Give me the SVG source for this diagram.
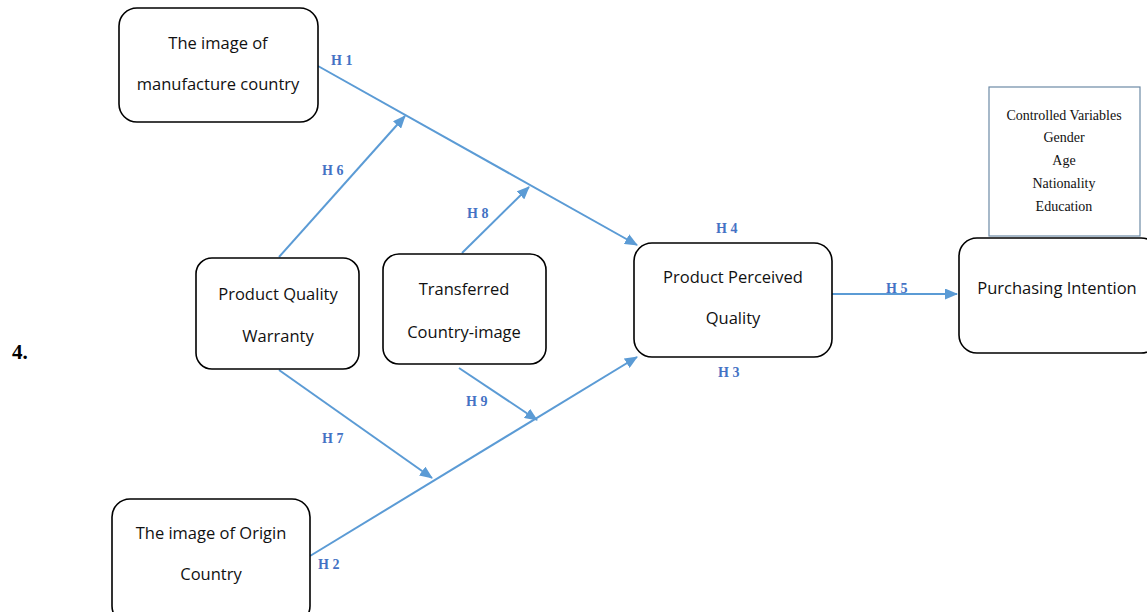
<svg xmlns="http://www.w3.org/2000/svg" width="1147" height="612" viewBox="0 0 1147 612">
<style>
.box{fill:#fff;stroke:#000;stroke-width:1.6}
.t{font-family:"Open Sans","Liberation Sans",sans-serif;font-size:16.5px;fill:#111;text-anchor:middle}
.c{fill:none;stroke:#5b9bd5;stroke-width:2}
.h{font-family:"Liberation Serif",serif;font-weight:bold;font-size:14px;fill:#4472c4}
.cv{font-family:"Liberation Serif",serif;font-size:14px;fill:#111;text-anchor:middle}
.num{font-family:"Liberation Serif",serif;font-weight:bold;font-size:21px;fill:#000}
</style>
<defs>
<marker id="a" viewBox="0 0 13 11" refX="12" refY="5.5" markerWidth="13" markerHeight="11" markerUnits="userSpaceOnUse" orient="auto">
<path d="M0,0 L13,5.5 L0,11 Z" fill="#5b9bd5"/>
</marker>
</defs>
<rect width="1147" height="612" fill="#fff"/>
<text class="num" x="12" y="359">4.</text>
<g id="connectors">
<line class="c" x1="318" y1="66" x2="637" y2="245" marker-end="url(#a)"/>
<line class="c" x1="279" y1="257" x2="405" y2="116" marker-end="url(#a)"/>
<line class="c" x1="462" y1="253" x2="529" y2="187" marker-end="url(#a)"/>
<line class="c" x1="310" y1="556" x2="637" y2="357" marker-end="url(#a)"/>
<line class="c" x1="279" y1="370" x2="432" y2="478" marker-end="url(#a)"/>
<line class="c" x1="459" y1="368" x2="537" y2="420" marker-end="url(#a)"/>
<line class="c" x1="832" y1="294" x2="957" y2="294" marker-end="url(#a)"/>
<text class="h" x="331" y="65">H 1</text>
<text class="h" x="322" y="175">H 6</text>
<text class="h" x="467" y="218">H 8</text>
<text class="h" x="716" y="233">H 4</text>
<text class="h" x="886" y="293">H 5</text>
<text class="h" x="718" y="377">H 3</text>
<text class="h" x="466" y="406">H 9</text>
<text class="h" x="322" y="443">H 7</text>
<text class="h" x="318" y="569">H 2</text>
</g>
<g id="n1">
<rect class="box" x="119" y="8" width="199" height="114" rx="18"/>
<text class="t" x="218" y="49">The image of</text>
<text class="t" x="218" y="90">manufacture country</text>
</g>
<g id="n2">
<rect class="box" x="196" y="258" width="163" height="111" rx="16"/>
<text class="t" x="278" y="300">Product Quality</text>
<text class="t" x="278" y="342">Warranty</text>
</g>
<g id="n3">
<rect class="box" x="383" y="254" width="163" height="110" rx="16"/>
<text class="t" x="464" y="295">Transferred</text>
<text class="t" x="464" y="338">Country-image</text>
</g>
<g id="n4">
<rect class="box" x="634" y="243" width="198" height="114" rx="18"/>
<text class="t" x="733" y="283">Product Perceived</text>
<text class="t" x="733" y="324">Quality</text>
</g>
<g id="n5">
<rect class="box" x="959" y="238" width="200" height="115" rx="18"/>
<text class="t" x="1057" y="294">Purchasing Intention</text>
</g>
<g id="n6">
<rect x="989" y="87" width="151" height="149" fill="#fff" stroke="#6d8aa6" stroke-width="1.2"/>
<text class="cv" x="1064" y="120">Controlled Variables</text>
<text class="cv" x="1064" y="142">Gender</text>
<text class="cv" x="1064" y="165">Age</text>
<text class="cv" x="1064" y="188">Nationality</text>
<text class="cv" x="1064" y="211">Education</text>
</g>
<g id="n7">
<rect class="box" x="112" y="499" width="198" height="125" rx="18"/>
<text class="t" x="211" y="539">The image of Origin</text>
<text class="t" x="211" y="580">Country</text>
</g>
</svg>
